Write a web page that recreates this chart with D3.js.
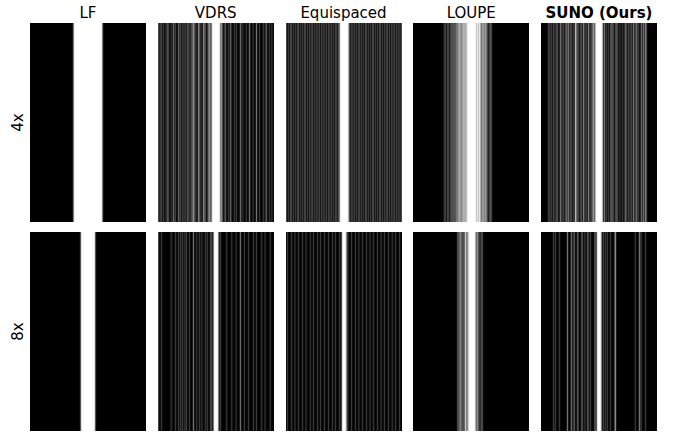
<!DOCTYPE html>
<html>
<head>
<meta charset="utf-8">
<script src="https://cdn.jsdelivr.net/npm/d3@7"></script>
<style>
  body { margin: 0; background: #fff; }
  text { font-family: "DejaVu Sans", sans-serif; }
</style>
</head>
<body>
<div id="chart"></div>
<script>
// k-space width (phase-encode columns) of every mask
const N_COLS = 368;
const methods = ['LF', 'VDRS', 'Equispaced', 'LOUPE', 'SUNO (Ours)'];
const rates = ['4x', '8x'];

// sampled columns; a pair [a, b] is an inclusive run of columns
const lf4 = [[138, 229]];
const lf8 = [[161, 206]];

const vdrs4 = [2, 6, 10, 17, 25, 29, 32, 41, [49, 50], 55, [65, 66], 71, 76, 82, 88, [94, 95], 101, 105,
  [110, 112], 116, 120, [128, 129], 132, 136, [143, 144], 147, 151, [158, 159], [163, 164], 166,
  [170, 197], [200, 201], 204, [212, 213], 222, [230, 231], 241, 249, [260, 261], 269, 279, [290, 291],
  301, [311, 312], 322, 333, [342, 343], 352, 361];
const vdrs8 = [1, 10, 41, 54, 64, 72, 77, 85, 91, 99, [112, 113], 123, 131, 139, 149, 156, 165, 170,
  [176, 191], 197, 218, 234, 247, [260, 261], 273, 286, 302, 313, 329, 339, 355];

const equi4 = [2, 7, 13, 18, 24, 29, 35, 40, 46, 51, 57, 62, 68, 73, 79, 84, 90, 95, 101, 106, 112, 117,
  123, 128, 134, 139, 145, 150, 156, 161, 167, [170, 198], 201, 207, 212, 218, 223, 229, 234, 240, 245,
  251, 256, 262, 267, 273, 278, 284, 289, 295, 300, 306, 311, 317, 322, 328, 333, 339, 344, 350, 355,
  361, 366];
const equi8 = [4, 16, 28, 39, 52, 63, 76, 87, 99, 110, 121, 134, 147, 157, 169, [177, 191], 196, 208, 219,
  231, 243, 254, 266, 278, 289, 301, 313, 324, 336, 348, 359];

const loupe4 = [98, 103, 108, 113, 118, 122, 126, 129, 132, 134, 137, 139, 141, 143, [145, 146], 148,
  [150, 151], 153, [155, 156], [158, 159], [161, 162], [164, 165], [167, 169],
  [171, 199], [201, 207], [209, 213], 215, 217, 219, 221, [223, 224], 226, 228, 230, 231, 233, 237, 241,
  245, 249];
const loupe8 = [140, 143, 146, [149, 150], 153, 156, 159, 162, [165, 167], [170, 172], [175, 198], 201,
  [204, 205], 208, 212, 216, 219];

const suno4 = [23, 28, 34, 39, 44, [50, 51], [60, 61], 66, 71, 76, [81, 82], [87, 88], 92, 97, 102,
  [108, 110], [113, 114], 119, 124, 129, [134, 135], 139, 145, [150, 151], 155, [161, 162], [166, 168],
  [172, 195], [201, 202], 208, 213, 219, [224, 225], 229, 235, 239, 243, 250, 258, [266, 267], 272, 277,
  282, 287, [293, 294], 298, [303, 304], 310, [317, 318], [324, 325], [330, 331], 335];
const suno8 = [39, 46, 57, [83, 84], [95, 96], [104, 105], [116, 117], [129, 130], 139, [148, 149], 157,
  169, 173, [177, 191], 197, 203, 211, 219, [234, 236], 298, [311, 312], 317, 330];

const masks = {
  '4x': [lf4, vdrs4, equi4, loupe4, suno4],
  '8x': [lf8, vdrs8, equi8, loupe8, suno8]
};

const width = 673;
const height = 434;

// 0/1 vector over all k-space columns
function toMask(entries) {
  const m = new Array(N_COLS).fill(0);
  entries.forEach(e => {
    if (Array.isArray(e)) {
      for (let c = e[0]; c <= e[1]; c++) m[c] = 1;
    } else {
      m[e] = 1;
    }
  });
  return m;
}

// the mask is wider than the panel, so each screen pixel shows the share of
// sampled columns under it, then a small smoothing like imshow's downsampling
function toPixels(mask, colScale, nPix) {
  const raw = [];
  for (let p = 0; p < nPix; p++) {
    const c0 = colScale.invert(p);
    const c1 = colScale.invert(p + 1);
    let s = 0;
    for (let c = Math.floor(c0); c < Math.ceil(c1); c++) {
      if (c < 0 || c >= N_COLS || !mask[c]) continue;
      s += Math.min(c + 1, c1) - Math.max(c, c0);
    }
    raw.push(s / (c1 - c0));
  }
  return raw.map((v, p) => {
    const l = raw[Math.max(p - 1, 0)];
    const r = raw[Math.min(p + 1, nPix - 1)];
    return {p, v: 0.15 * l + 0.7 * v + 0.15 * r};
  });
}

const svg = d3.select('#chart').append('svg')
  .attr('width', width)
  .attr('height', height);

svg.append('rect').attr('width', width).attr('height', height).attr('fill', '#fff');

const x = d3.scaleBand().domain(methods).range([30, 657]).paddingInner(0.092).paddingOuter(0);
const y = d3.scaleBand().domain(rates).range([23, 431]).paddingInner(0.048).paddingOuter(0);
const nPix = Math.round(x.bandwidth());
const col = d3.scaleLinear().domain([0, N_COLS]).range([0, nPix]);
const grey = d3.scaleLinear().domain([0, 1]).range(['#000', '#fff']);

rates.forEach(rate => {
  methods.forEach((m, i) => {
    const g = svg.append('g')
      .attr('transform', `translate(${Math.round(x(m))},${Math.round(y(rate))})`)
      .attr('shape-rendering', 'crispEdges');
    g.selectAll('rect')
      .data(toPixels(toMask(masks[rate][i]), col, nPix))
      .join('rect')
      .attr('x', d => d.p)
      .attr('width', 1)
      .attr('y', 0)
      .attr('height', Math.round(y.bandwidth()))
      .attr('fill', d => grey(d.v));
  });
});

// column titles
svg.selectAll('text.title')
  .data(methods)
  .join('text')
  .attr('class', 'title')
  .attr('x', d => x(d) + x.bandwidth() / 2)
  .attr('y', 18)
  .attr('text-anchor', 'middle')
  .attr('font-size', 15)
  .attr('font-weight', d => d === 'SUNO (Ours)' ? 'bold' : 'normal')
  .attr('fill', '#000')
  .text(d => d);

// row labels
svg.selectAll('text.rate')
  .data(rates)
  .join('text')
  .attr('class', 'rate')
  .attr('transform', d => `translate(23,${y(d) + y.bandwidth() / 2}) rotate(-90)`)
  .attr('text-anchor', 'middle')
  .attr('font-size', 15)
  .attr('fill', '#000')
  .text(d => d);
</script>
</body>
</html>
